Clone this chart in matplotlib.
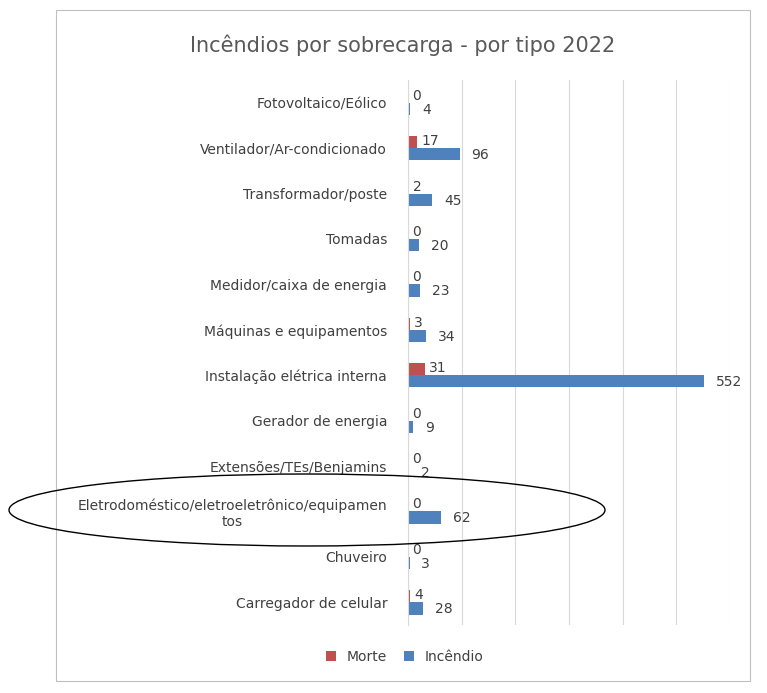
import numpy as np
import matplotlib.pyplot as plt
from matplotlib.patches import Ellipse, Rectangle

# categories bottom to top
categorias = ['Carregador de celular', 'Chuveiro',
              'Eletrodoméstico/eletroeletrônico/equipamen\ntos',
              'Extensões/TEs/Benjamins', 'Gerador de energia',
              'Instalação elétrica interna', 'Máquinas e equipamentos',
              'Medidor/caixa de energia', 'Tomadas', 'Transformador/poste',
              'Ventilador/Ar-condicionado', 'Fotovoltaico/Eólico']
morte = [4, 0, 0, 0, 0, 31, 3, 0, 0, 2, 17, 0]
incendio = [28, 3, 62, 2, 9, 552, 34, 23, 20, 45, 96, 4]

cor_morte = '#C0504D'
cor_incendio = '#4F81BD'
texto = '#404040'

fig = plt.figure(figsize=(7.67, 6.93), dpi=100)
fig.patches.append(Rectangle((56/767, 1-681/693), 694/767, 671/693, transform=fig.transFigure,
                             fill=False, edgecolor='#BFBFBF', lw=0.8))
ax = fig.add_axes([408/767, 1-625/693, 322/767, 545/693])

y = np.arange(len(categorias))
h = 0.27
ax.barh(y + h/2, morte, height=h, color=cor_morte, label='Morte')
ax.barh(y - h/2, incendio, height=h, color=cor_incendio, label='Incêndio')
for i in range(len(y)):
    ax.text(morte[i] + 8, y[i] + h/2 + 0.02, str(morte[i]), va='center', fontsize=10, color=texto)
    ax.text(incendio[i] + 22, y[i] - h/2 - 0.02, str(incendio[i]), va='center', fontsize=10, color=texto)

ax.set_xlim(0, 600)
ax.set_ylim(-0.5, len(y) - 0.5)
ax.set_xticks(np.arange(0, 601, 100))
ax.set_xticklabels([])
ax.tick_params(length=0)
ax.grid(axis='x', color='#D9D9D9', lw=0.8)
ax.set_axisbelow(True)
for s in ['top', 'right', 'bottom']:
    ax.spines[s].set_visible(False)
ax.spines['left'].set_color('#D9D9D9')
ax.set_yticks(y)
ax.set_yticklabels(categorias, fontsize=10, color=texto, ha='right', multialignment='center')
ax.tick_params(axis='y', pad=15)

fig.text(403/767, 1-45/693, 'Incêndios por sobrecarga - por tipo 2022', ha='center', va='center',
         fontsize=15, color='#595959')
fig.legend(loc='center', bbox_to_anchor=(405/767, 1-657/693), ncol=2, frameon=False,
           fontsize=10, handlelength=0.7, handleheight=0.7, labelcolor=texto, columnspacing=1.2)

fig.patches.append(Ellipse((307/767, 1-510/693), 596/767, 72/693, transform=fig.transFigure,
                           fill=False, edgecolor='black', lw=1))
fig.savefig('out.png', dpi=100)
